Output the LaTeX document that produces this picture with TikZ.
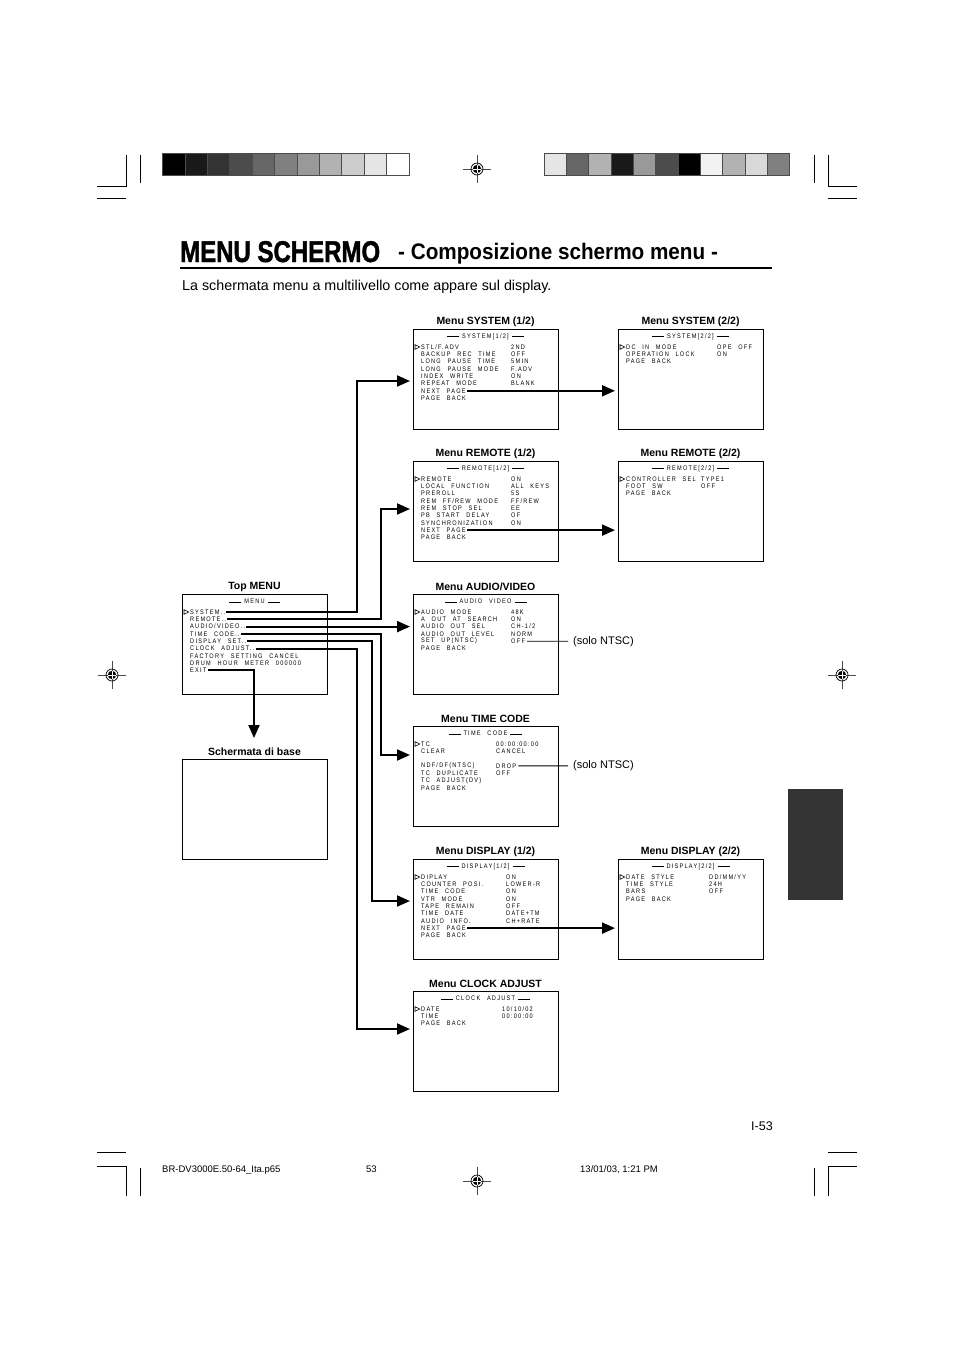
\documentclass[tikz,border=0pt]{standalone}
\usepackage{fontspec}
\setmainfont{Liberation Sans}
\newfontfamily\osdfont[LetterSpace=19,WordSpace=2.4,FakeStretch=0.85]{Liberation Sans}
\newfontfamily\titlefont[FakeStretch=0.8,FakeBold=1.5]{Liberation Sans}
\newfontfamily\subtitlefont[FakeStretch=0.92]{Liberation Sans}
\usetikzlibrary{arrows.meta}

\tikzset{
  screen/.style={draw, line width=1pt, minimum width=145pt, minimum height=100pt, inner sep=0pt},
  screenlabel/.style={font=\fontsize{10.5}{12}\selectfont\bfseries, inner sep=0pt},
  osd/.style={font={\osdfont\fontsize{6.6}{7}\selectfont}, anchor=west, inner sep=0pt},
  osdhead/.style={font={\osdfont\fontsize{6.6}{7}\selectfont}, inner sep=0pt},
  link/.style={line width=2pt, -{Triangle[length=13pt,width=11pt]}},
  leader/.style={line width=0.9pt},
  cropline/.style={line width=0.8pt},
}

\newcommand{\headrule}{\rule[1.6pt]{12pt}{0.6pt}}

% screen frame with its title above and its header line
\newcommand{\menuscreen}[5]{%
  \node[screen] (#1) at (#2+72.5,#3+50) {};
  \node[screenlabel] (#1-label) at (#2+72.5,#3-7.5) {#4};
  \node[osdhead] (#1-head) at (#2+72.5,#3+7.5) {\headrule\hspace{3pt}#5\hspace{3pt}\headrule};
}

% screen lines: label and value columns, cursor on the first line
\newcommand{\menuitems}[5]{%
  \foreach \lbl/\val [count=\i] in {#5} {
    \node[osd] (#1-\i) at (#2+8,#3+18+7.3*\i-7.3) {\lbl};
    \node[osd] (#1-\i-v) at (#4,#3+18+7.3*\i-7.3) {\val};
  }
  \draw[line width=0.6pt] (#2+2,#3+15.7) -- (#2+6.8,#3+18) -- (#2+2,#3+20.3) -- cycle;
}

% registration target
\newcommand{\regmark}[2]{%
  \draw[line width=0.5pt, black!70] (#1-14,#2) -- (#1+14,#2) (#1,#2-14) -- (#1,#2+14);
  \draw[line width=0.7pt] (#1,#2) circle (6pt);
  \fill (#1,#2) circle (4.2pt);
  \draw[white, line width=0.6pt] (#1-4.2,#2) -- (#1+4.2,#2) (#1,#2-4.2) -- (#1,#2+4.2);
}

\begin{document}
\begin{tikzpicture}[x=1pt, y=-1pt]
    \useasboundingbox (0,0) rectangle (954,1351);
    \fill[white] (0,0) rectangle (954,1351);

    % Crop marks
    \draw[cropline] (97,186) -- (126,186) -- (126,155);
    \draw[cropline] (140,155) -- (140,183);
    \draw[cropline] (97,198) -- (126,198);
    \draw[cropline] (857,186) -- (828,186) -- (828,155);
    \draw[cropline] (814,155) -- (814,183);
    \draw[cropline] (828,198) -- (857,198);
    \draw[cropline] (97,1152) -- (126,1152);
    \draw[cropline] (97,1166) -- (126,1166) -- (126,1196);
    \draw[cropline] (140,1168) -- (140,1196);
    \draw[cropline] (857,1152) -- (828,1152);
    \draw[cropline] (857,1166) -- (828,1166) -- (828,1196);
    \draw[cropline] (814,1168) -- (814,1196);

    % Grey scale bars
    \foreach \g [count=\i] in {100,90,80,70,60,50,40,30,20,10,0}
      \filldraw[fill=black!\g, draw=black!70, line width=1pt] (162.7+22.4*\i-22.4,154) rectangle ++(22.4,21.7);
    \foreach \g [count=\i] in {10,60,30,90,40,70,100,5,30,15,50}
      \filldraw[fill=black!\g, draw=black!70, line width=1pt] (544+22.36*\i-22.36,154) rectangle ++(22.36,21.7);

    % Registration targets
    \regmark{477}{169}
    \regmark{112}{675}
    \regmark{842}{675}
    \regmark{477}{1181}

    % Side tab
    \fill[black!80] (788,789) rectangle (843,900);

    % Title
    \node[anchor=base west, inner sep=0, font={\titlefont\bfseries\fontsize{30}{32}\selectfont}] (title) at (180,262) {MENU SCHERMO};
    \node[anchor=base west, inner sep=0, font={\subtitlefont\bfseries\fontsize{22.5}{24}\selectfont}] (subtitle) at (398,259) {- Composizione schermo menu -};
    \draw[line width=2pt] (180,267.5) -- (772,267.5);
    \node[anchor=base west, inner sep=0, font=\fontsize{14.3}{16}\selectfont] (intro) at (182,290) {La schermata menu a multilivello come appare sul display.};

    % Screens
    \menuscreen{top}{182}{594}{Top MENU}{MENU}
    \node[screen] (base) at (254.5,809) {};
    \node[screenlabel] (base-label) at (254.5,751.5) {Schermata di base};
    \menuscreen{sys1}{413}{329}{Menu SYSTEM (1/2)}{SYSTEM[1/2]}
    \menuscreen{sys2}{618}{329}{Menu SYSTEM (2/2)}{SYSTEM[2/2]}
    \menuscreen{rem1}{413}{461}{Menu REMOTE (1/2)}{REMOTE[1/2]}
    \menuscreen{rem2}{618}{461}{Menu REMOTE (2/2)}{REMOTE[2/2]}
    \menuscreen{av}{413}{594}{Menu AUDIO/VIDEO}{AUDIO VIDEO}
    \menuscreen{tc}{413}{726}{Menu TIME CODE}{TIME CODE}
    \menuscreen{dis1}{413}{859}{Menu DISPLAY (1/2)}{DISPLAY[1/2]}
    \menuscreen{dis2}{618}{859}{Menu DISPLAY (2/2)}{DISPLAY[2/2]}
    \menuscreen{clk}{413}{991}{Menu CLOCK ADJUST}{CLOCK ADJUST}

    % Top menu lines
    \foreach \lbl [count=\i] in {SYSTEM.., REMOTE.., AUDIO/VIDEO.., TIME CODE.., DISPLAY SET.., CLOCK ADJUST.., FACTORY SETTING CANCEL, DRUM HOUR METER 000000, EXIT}
      \node[osd] (top-\i) at (190,612+7.3*\i-7.3) {\lbl};
    \draw[line width=0.6pt] (184,609.7) -- (188.8,612) -- (184,614.3) -- cycle;

    % Sub menu lines
    \menuitems{sys1}{413}{329}{511}{{STL/F.ADV}/2ND, BACKUP REC TIME/OFF, LONG PAUSE TIME/5MIN, LONG PAUSE MODE/F.ADV, INDEX WRITE/ON, REPEAT MODE/BLANK, NEXT PAGE/{}, PAGE BACK/{}}
    \menuitems{sys2}{618}{329}{717}{DC IN MODE/OPE OFF, OPERATION LOCK/ON, PAGE BACK/{}}
    \menuitems{rem1}{413}{461}{511}{REMOTE/ON, LOCAL FUNCTION/ALL KEYS, PREROLL/5S, {REM FF/REW MODE}/{FF/REW}, REM STOP SEL/EE, PB START DELAY/OF, SYNCHRONIZATION/ON, NEXT PAGE/{}, PAGE BACK/{}}
    \menuitems{rem2}{618}{461}{701}{CONTROLLER SEL/TYPE1, FOOT SW/OFF, PAGE BACK/{}}
    \menuitems{av}{413}{594}{511}{AUDIO MODE/48K, A OUT AT SEARCH/ON, AUDIO OUT SEL/{CH-1/2}, AUDIO OUT LEVEL/NORM, SET UP(NTSC)/OFF, PAGE BACK/{}}
    \menuitems{tc}{413}{726}{496}{TC/00:00:00:00, CLEAR/CANCEL, {}/{}, {NDF/DF(NTSC)}/DROP, TC DUPLICATE/OFF, TC ADJUST(DV)/{}, PAGE BACK/{}}
    \menuitems{dis1}{413}{859}{506}{DIPLAY/ON, COUNTER POSI./LOWER-R, TIME CODE/ON, VTR MODE/ON, TAPE REMAIN/OFF, TIME DATE/DATE+TM, AUDIO INFO./CH+RATE, NEXT PAGE/{}, PAGE BACK/{}}
    \menuitems{dis2}{618}{859}{709}{DATE STYLE/{DD/MM/YY}, TIME STYLE/24H, BARS/OFF, PAGE BACK/{}}
    \menuitems{clk}{413}{991}{502}{DATE/{10/10/02}, TIME/00:00:00, PAGE BACK/{}}

    % Entry points
    \coordinate (sys1-in) at (410,381);
    \coordinate (rem1-in) at (410,509);
    \coordinate (av-in) at (410,627);
    \coordinate (tc-in) at (410,755);
    \coordinate (dis1-in) at (410,901);
    \coordinate (clk-in) at (410,1029);
    \coordinate (base-in) at (254,738);
    \coordinate (sys2-in) at (615,391);
    \coordinate (rem2-in) at (615,530);
    \coordinate (dis2-in) at (615,928);

    % Links from the top menu
    \draw[link] ([xshift=1pt]top-1.east) -| ([xshift=-53pt]sys1-in) -- (sys1-in);
    \draw[link] ([xshift=1pt]top-2.east) -| ([xshift=-29pt]rem1-in) -- (rem1-in);
    \draw[link] ([xshift=1pt]top-3.east) -- (top-3.east -| av-in);
    \draw[link] ([xshift=1pt]top-4.east) -| ([xshift=-29pt]tc-in) -- (tc-in);
    \draw[link] ([xshift=1pt]top-5.east) -| ([xshift=-38pt]dis1-in) -- (dis1-in);
    \draw[link] ([xshift=1pt]top-6.east) -| ([xshift=-53pt]clk-in) -- (clk-in);
    \draw[link] ([xshift=1pt]top-9.east) -| (base-in);

    % Next page links
    \draw[link] ([xshift=1pt]sys1-7.east) -- (sys1-7.east -| sys2-in);
    \draw[link] ([xshift=1pt]rem1-8.east) -- (rem1-8.east -| rem2-in);
    \draw[link] ([xshift=1pt]dis1-8.east) -- (dis1-8.east -| dis2-in);

    % NTSC notes
    \node[anchor=west, inner sep=0, font=\fontsize{11}{13}\selectfont] (ntsc-av) at (573,641.2) {(solo NTSC)};
    \node[anchor=west, inner sep=0, font=\fontsize{11}{13}\selectfont] (ntsc-tc) at (573,765.9) {(solo NTSC)};
    \draw[leader] ([xshift=2pt]av-5-v.east) -- ([xshift=-5pt]ntsc-av.west);
    \draw[leader] ([xshift=2pt]tc-4-v.east) -- ([xshift=-5pt]ntsc-tc.west);

    % Footer
    \node[anchor=base west, inner sep=0, font=\fontsize{12.5}{14}\selectfont] (pageno) at (751,1130.5) {I-53};
    \node[anchor=base west, inner sep=0, font=\fontsize{9.5}{11}\selectfont] (file) at (162,1172.5) {BR-DV3000E.50-64\_Ita.p65};
    \node[anchor=base west, inner sep=0, font=\fontsize{9.5}{11}\selectfont] (page) at (366,1172.5) {53};
    \node[anchor=base west, inner sep=0, font=\fontsize{9.5}{11}\selectfont] (date) at (580,1172.5) {13/01/03, 1:21 PM};
\end{tikzpicture}
\end{document}
